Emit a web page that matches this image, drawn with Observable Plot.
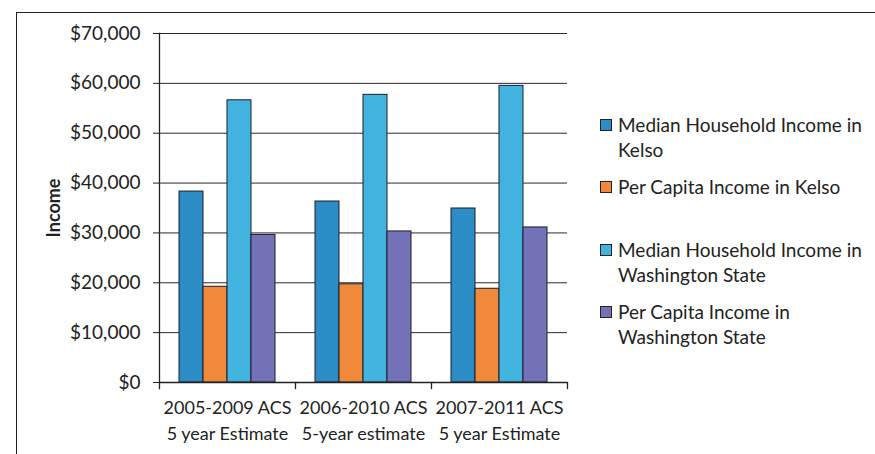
<!DOCTYPE html>
<html>
<head>
<meta charset="utf-8">
<script src="https://cdn.jsdelivr.net/npm/d3@7"></script>
<script src="https://cdn.jsdelivr.net/npm/@observablehq/plot@0.6"></script>
<style>
  html, body { margin: 0; padding: 0; background: #fff; }
  #wrap { position: relative; width: 875px; height: 454px; overflow: hidden; font-family: Lato, "Open Sans", sans-serif; color: #222; }
  #border { position: absolute; left: 16px; top: 12px; right: -4px; bottom: -4px; border-left: 1.5px solid #222; border-top: 1.5px solid #222; }
  #legend { position: absolute; left: 600px; top: 0; }
  .item { position: absolute; left: 0; width: 275px; font-size: 19px; line-height: 25px; }
  .sw { position: absolute; left: 0; top: 7px; width: 10px; height: 10px; border: 1px solid #222; }
  .lab { position: absolute; left: 18px; top: 0; white-space: nowrap; }
  svg { position: absolute; left: 0; top: 0; }
</style>
</head>
<body>
<div id="wrap">
  <div id="border"></div>
  <div id="legend"></div>
</div>
<script>
// ---- data ----
const periods = [
  "2005-2009 ACS\n5 year Estimate",
  "2006-2010 ACS\n5-year estimate",
  "2007-2011 ACS\n5 year Estimate"
];
const seriesNames = [
  "Median Household Income in Kelso",
  "Per Capita Income in Kelso",
  "Median Household Income in Washington State",
  "Per Capita Income in Washington State"
];
const legendLines = [
  ["Median Household Income in", "Kelso"],
  ["Per Capita Income in Kelso"],
  ["Median Household Income in", "Washington State"],
  ["Per Capita Income in", "Washington State"]
];
const medianKelso    = [38300, 36300, 34900];
const perCapitaKelso = [19200, 19700, 18800];
const medianWA       = [56600, 57700, 59500];
const perCapitaWA    = [29600, 30300, 31100];
const yTicks = [0, 10000, 20000, 30000, 40000, 50000, 60000, 70000];
const colors = ["#2b8cc6", "#f0893a", "#42b2de", "#7472b6"];

const seriesValues = [medianKelso, perCapitaKelso, medianWA, perCapitaWA];
const rows = [];
periods.forEach((p, i) => seriesNames.forEach((s, j) => rows.push({period: p, series: s, value: seriesValues[j][i]})));

const marginTop = 33, marginBottom = 72, height = 454;
const plotH = height - marginTop - marginBottom;

const chart = Plot.plot({
  width: 875,
  height,
  marginLeft: 159,
  marginRight: 308,
  marginTop,
  marginBottom,
  style: {fontFamily: "Lato, 'Open Sans', sans-serif", color: "#222", background: "transparent"},
  fx: {domain: periods, padding: 0, label: null},
  x: {domain: seriesNames, paddingInner: 0, paddingOuter: 0.74, axis: null},
  y: {domain: [0, 70000], label: null},
  color: {domain: seriesNames, range: colors},
  marks: [
    Plot.gridY(yTicks, {stroke: "#2a2a2a", strokeOpacity: 1, strokeWidth: 1}),
    Plot.barY(rows, {fx: "period", x: "series", y: "value", fill: "series", stroke: "#1c1c2c", strokeWidth: 1}),
    Plot.ruleY([0], {stroke: "#222", strokeWidth: 1.3}),
    Plot.frame({anchor: "left", facetAnchor: "left", insetBottom: -6, stroke: "#222", strokeWidth: 1.3}),
    Plot.frame({anchor: "right", insetTop: plotH, insetBottom: -6, stroke: "#222", strokeWidth: 1.3}),
    Plot.axisY(yTicks, {tickFormat: d => "$" + d3.format(",")(d), tickSize: 6, tickPadding: 13, fontSize: 19, label: null, stroke: "#222"}),
    Plot.axisFx({anchor: "bottom", tickSize: 0, tickPadding: 13, fontSize: 18, lineHeight: 1.45, label: null}),
    Plot.text(["Income"], {frameAnchor: "left", textAnchor: "middle", dx: -105, rotate: -90, fontWeight: "bold", fontSize: 18, facetAnchor: "left"})
  ]
});
document.getElementById("wrap").appendChild(chart);

const legend = document.getElementById("legend");
const tops = [112, 174, 237, 299];
legendLines.forEach((lines, i) => {
  const item = document.createElement("div");
  item.className = "item";
  item.style.top = tops[i] + "px";
  const sw = document.createElement("div");
  sw.className = "sw";
  sw.style.background = colors[i];
  const lab = document.createElement("div");
  lab.className = "lab";
  lines.forEach((t, k) => {
    if (k) lab.appendChild(document.createElement("br"));
    lab.appendChild(document.createTextNode(t));
  });
  item.appendChild(sw);
  item.appendChild(lab);
  legend.appendChild(item);
});
</script>
</body>
</html>
